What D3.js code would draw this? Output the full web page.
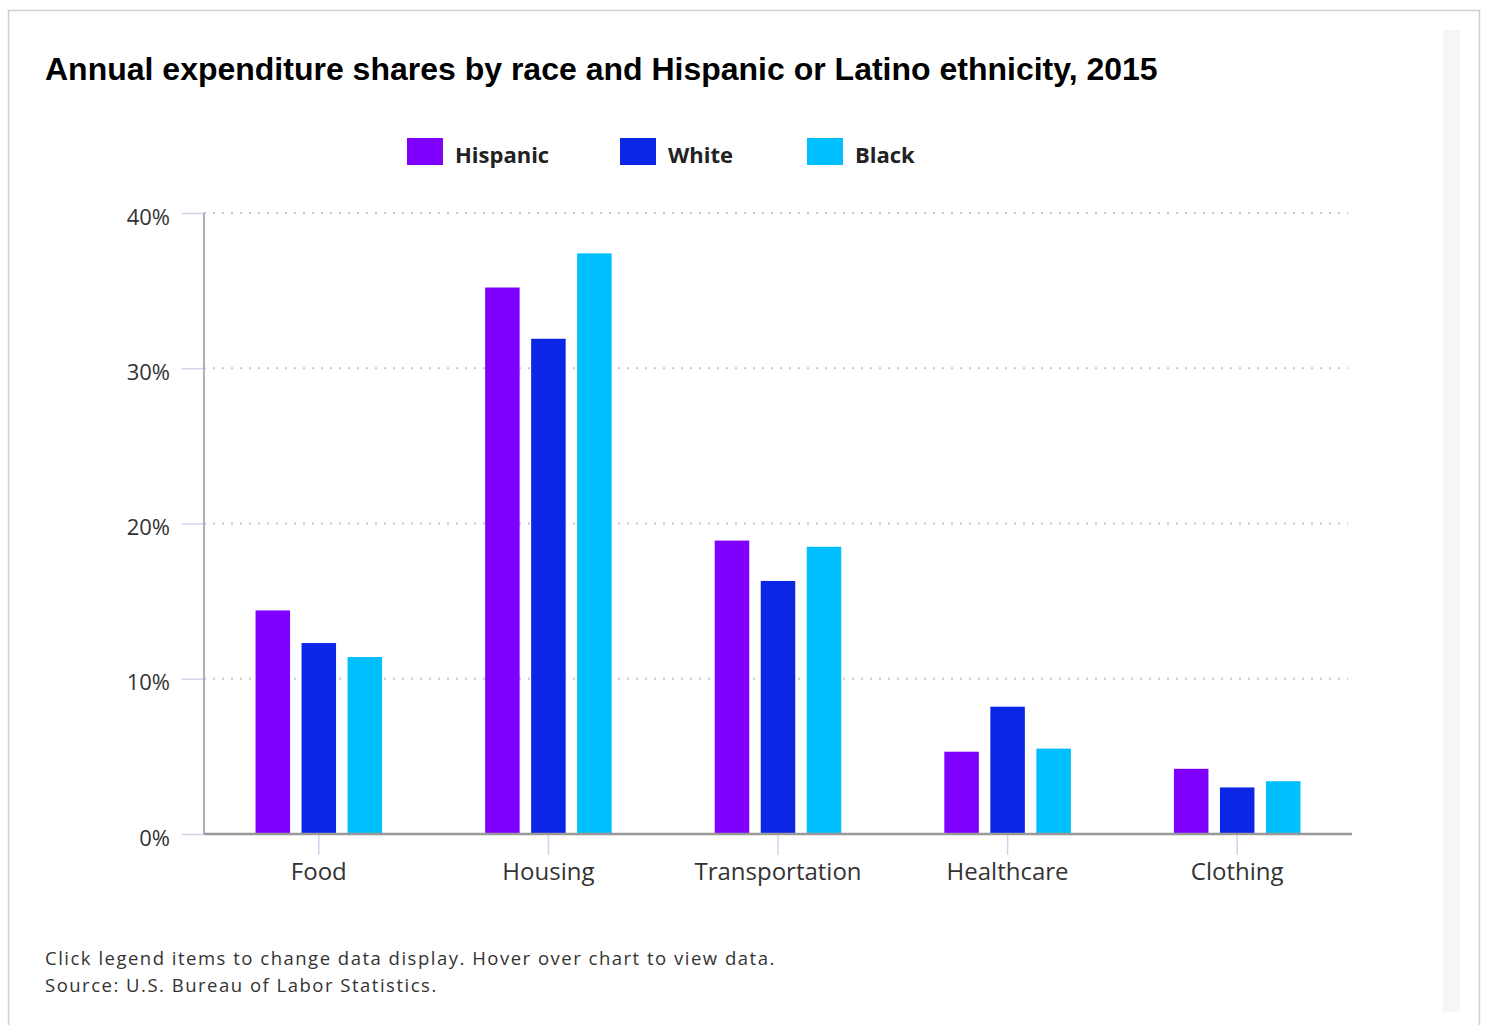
<!DOCTYPE html>
<html>
<head>
<meta charset="utf-8">
<script src="https://cdn.jsdelivr.net/npm/d3@7"></script>
<style>
  html, body { margin: 0; padding: 0; background: #fff; }
  svg { display: block; }
</style>
</head>
<body>
<svg id="chart" width="1486" height="1025"></svg>
<script>
// Expenditure categories along the x axis
const categories = ["Food", "Housing", "Transportation", "Healthcare", "Clothing"];
// Groups shown as side-by-side bars
const series = ["Hispanic", "White", "Black"];
const seriesColors = ["#7f00ff", "#0b27e5", "#00bfff"];
// Share of annual expenditure (%), one array per group, in category order
const hispanicValues = [14.4, 35.2, 18.9, 5.3, 4.2];
const whiteValues = [12.3, 31.9, 16.3, 8.2, 3.0];
const blackValues = [11.4, 37.4, 18.5, 5.5, 3.4];
const yTicks = [0, 10, 20, 30, 40];

const seriesValues = [hispanicValues, whiteValues, blackValues];
const rows = categories.map((c, i) => ({
  category: c,
  values: series.map((s, j) => ({ key: s, value: seriesValues[j][i] }))
}));

const svg = d3.select("#chart");
const font = "'Open Sans', 'DejaVu Sans', sans-serif";

// Outer frame and the scroll strip on the right
svg.append("rect").attr("x", 8.5).attr("y", 10.5).attr("width", 1471).attr("height", 1030)
  .attr("fill", "#fff").attr("stroke", "#cfcfcf").attr("stroke-width", 1.5);
svg.append("rect").attr("x", 1443).attr("y", 30).attr("width", 17).attr("height", 982)
  .attr("fill", "#f6f6f6");

// Title
svg.append("text").attr("x", 45).attr("y", 80)
  .attr("font-family", "'Liberation Sans', Arial, sans-serif")
  .attr("font-weight", "bold").attr("font-size", 32).attr("fill", "#000")
  .text("Annual expenditure shares by race and Hispanic or Latino ethnicity, 2015");

// Legend
const legendX = [407, 620, 807];
const legend = svg.append("g");
series.forEach((s, i) => {
  legend.append("rect").attr("x", legendX[i]).attr("y", 138).attr("width", 36).attr("height", 27)
    .attr("fill", seriesColors[i]);
  legend.append("text").attr("x", legendX[i] + 48).attr("y", 163)
    .attr("font-family", font).attr("font-weight", "bold").attr("font-size", 22)
    .attr("fill", "#222").text(s);
});

// Plot area
const plotLeft = 204, plotRight = 1352, plotTop = 213, plotBottom = 834;

const x0 = d3.scaleBand().domain(categories).range([plotLeft, plotRight]).padding(0);
const x1 = d3.scaleBand().domain(series).range([0, x0.bandwidth()])
  .paddingInner(0.25).paddingOuter(1.12);
const y = d3.scaleLinear().domain([0, 40]).range([plotBottom, plotTop]);
const color = d3.scaleOrdinal().domain(series).range(seriesColors);

// Dotted horizontal gridlines
svg.append("g").selectAll("line").data(yTicks.filter(t => t > 0)).join("line")
  .attr("x1", plotLeft).attr("x2", 1348)
  .attr("y1", d => y(d)).attr("y2", d => y(d))
  .attr("stroke", "#c8c8c8").attr("stroke-width", 2).attr("stroke-dasharray", "2,7");

// Y axis
const yAxis = svg.append("g").attr("transform", `translate(${plotLeft},0)`)
  .call(d3.axisLeft(y).tickValues(yTicks).tickFormat(d => d + "%").tickSize(22).tickPadding(12));
yAxis.select(".domain").remove();
yAxis.selectAll(".tick line").attr("stroke", "#ccd6eb").attr("stroke-width", 1.5);
yAxis.selectAll(".tick text").attr("font-family", font).attr("font-size", 22)
  .attr("fill", "#333").attr("dy", "0.5em");
svg.append("line").attr("x1", plotLeft).attr("x2", plotLeft).attr("y1", plotTop).attr("y2", plotBottom)
  .attr("stroke", "#b0b0b0").attr("stroke-width", 2);

// Bars
svg.append("g").selectAll("g").data(rows).join("g")
  .attr("transform", d => `translate(${x0(d.category)},0)`)
  .selectAll("rect").data(d => d.values).join("rect")
  .attr("x", d => x1(d.key)).attr("width", x1.bandwidth())
  .attr("y", d => y(d.value)).attr("height", d => y(0) - y(d.value))
  .attr("fill", d => color(d.key));

// X axis
const xAxis = svg.append("g").attr("transform", `translate(0,${plotBottom})`)
  .call(d3.axisBottom(x0).tickSize(21).tickPadding(18));
xAxis.select(".domain").remove();
xAxis.selectAll(".tick line").attr("stroke", "#ccd6eb").attr("stroke-width", 1.5);
xAxis.selectAll(".tick text").attr("font-family", font).attr("font-size", 24)
  .attr("fill", "#333").attr("dy", "0.3em");
svg.append("line").attr("x1", plotLeft).attr("x2", plotRight).attr("y1", plotBottom).attr("y2", plotBottom)
  .attr("stroke", "#999").attr("stroke-width", 2.5);

// Notes
const notes = ["Click legend items to change data display. Hover over chart to view data.",
               "Source: U.S. Bureau of Labor Statistics."];
svg.append("g").selectAll("text").data(notes).join("text")
  .attr("x", 45).attr("y", (d, i) => 965 + i * 27)
  .attr("font-family", font).attr("font-size", 18.5).attr("letter-spacing", 1.5)
  .attr("fill", "#333")
  .text(d => d);
</script>
</body>
</html>
